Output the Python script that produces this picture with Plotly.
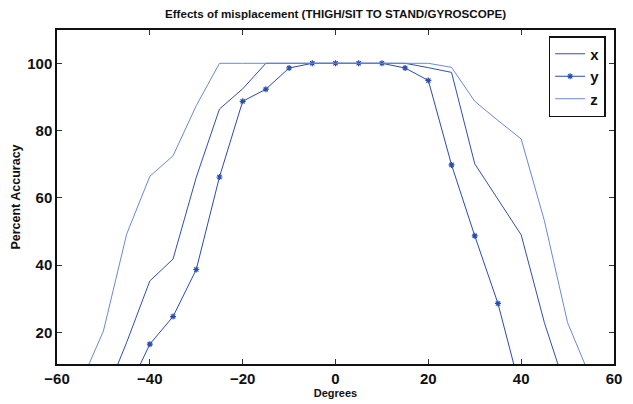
import plotly.graph_objects as go

degrees = [-60, -55, -50, -45, -40, -35, -30, -25, -20, -15, -10, -5, 0,
           5, 10, 15, 20, 25, 30, 35, 40, 45, 50, 55, 60]
acc_x = [0, 0, 0, 17.0, 35.3, 41.8, 66.1, 86.4, 92.4, 100, 100, 100, 100,
         100, 100, 100, 98.7, 97.3, 70.1, 59.4, 49.0, 22.9, 1.7, 0, 0]
acc_y = [0, 0, 0, 2.0, 16.5, 24.7, 38.7, 66.2, 88.7, 92.3, 98.6, 100, 100,
         100, 100, 98.6, 94.9, 69.8, 48.7, 28.6, 2.1, 0, 0, 0, 0]
acc_z = [0, 4.6, 20.4, 49.2, 66.4, 72.5, 87.4, 100, 100, 100, 100, 100, 100,
         100, 100, 100, 100, 98.8, 88.7, 83.0, 77.5, 53.2, 22.9, 6.3, 0]

x_ticks = [-60, -40, -20, 0, 20, 40, 60]
y_ticks = [20, 40, 60, 80, 100]

FONT = "Liberation Sans, Arial, sans-serif"

fig = go.Figure()
fig.add_trace(go.Scatter(x=degrees, y=acc_x, name="x", mode="lines",
                         line=dict(color="#2f50b0", width=1)))
fig.add_trace(go.Scatter(x=degrees, y=acc_y, name="y", mode="lines+markers",
                         line=dict(color="#2a4cb0", width=1),
                         marker=dict(symbol="asterisk-open", size=5,
                                     line=dict(color="#2a4cb0", width=1.2))))
fig.add_trace(go.Scatter(x=degrees, y=acc_z, name="z", mode="lines",
                         line=dict(color="#6a8ad4", width=1)))

fig.update_layout(
    width=633, height=404,
    margin=dict(l=57, r=19, t=30, b=40),
    paper_bgcolor="white", plot_bgcolor="white",
    font=dict(family=FONT, color="#111111"),
    title=dict(text="<b>Effects of misplacement (THIGH/SIT TO STAND/GYROSCOPE)</b>",
               x=(57 + 614) / 2 / 633, xanchor="center",
               y=1 - 14 / 404, yanchor="middle",
               font=dict(size=11.6, family=FONT)),
    showlegend=True,
    legend=dict(x=0.985, y=0.982, xanchor="right", yanchor="top",
                bordercolor="#111111", borderwidth=1.5, bgcolor="white",
                font=dict(size=15, family=FONT, weight="bold"),
                tracegroupgap=0, itemwidth=30),
)
fig.update_xaxes(range=[-60, 60], tickvals=x_ticks, ticks="inside", ticklen=5,
                 tickcolor="#333333", showline=True, linecolor="#111111",
                 linewidth=1.5, mirror="ticks", showgrid=False, zeroline=False,
                 automargin=False,
                 tickfont=dict(size=15, family=FONT, weight="bold"),
                 title=dict(text="<b>Degrees</b>", font=dict(size=11, family=FONT),
                            standoff=2))
fig.update_yaxes(range=[10.6, 109.9], tickvals=y_ticks, ticks="inside", ticklen=5,
                 tickcolor="#333333", showline=True, linecolor="#111111",
                 linewidth=1.5, mirror="ticks", showgrid=False, zeroline=False,
                 automargin=False,
                 tickfont=dict(size=15, family=FONT, weight="bold"),
                 title=dict(text="<b>Percent Accuracy</b>", font=dict(size=12.5, family=FONT),
                            standoff=4))

fig.write_html("out.html")
